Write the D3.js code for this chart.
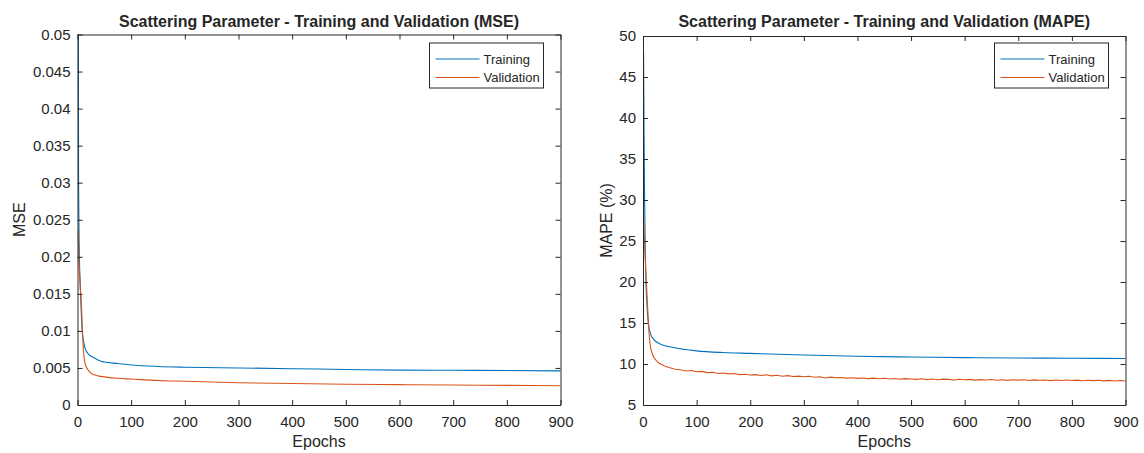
<!DOCTYPE html>
<html>
<head>
<meta charset="utf-8">
<script src="https://cdn.jsdelivr.net/npm/d3@7"></script>
<style>
  body { margin: 0; background: #fff; }
  text { font-family: "Liberation Sans", Arial, sans-serif; fill: #262626; }
</style>
</head>
<body>
<div id="chart"></div>
<script>
// DATA ------------------------------------------------------------
// epochs + values (key points, denser near the knee)
let mse_train_epochs = [1, 2, 3, 5, 7, 8, 9, 11, 13, 15, 20, 30, 40, 50, 75, 100, 150, 200, 300, 400, 500, 600, 700, 800, 900];
let mse_train_values = [0.09, 0.03, 0.022, 0.0165, 0.0125, 0.0108, 0.0098, 0.0087, 0.008, 0.0075, 0.0069, 0.0064, 0.006, 0.0058, 0.0056, 0.0054, 0.0052, 0.0051, 0.005, 0.0049, 0.0048, 0.0047, 0.00468, 0.00465, 0.0046];

let mse_val_epochs = [1, 3, 5, 7, 9, 11, 13, 15, 20, 25, 30, 40, 50, 75, 100, 150, 200, 300, 400, 500, 600, 700, 800, 900];
let mse_val_values = [0.0236, 0.019, 0.016, 0.014, 0.0105, 0.0075, 0.006, 0.0054, 0.0047, 0.0043, 0.0041, 0.0039, 0.0038, 0.0036, 0.0035, 0.0033, 0.0032, 0.003, 0.0029, 0.0028, 0.00275, 0.0027, 0.00265, 0.0026];

let mape_train_epochs = [1, 2, 3, 4, 5, 6, 7, 8, 10, 14, 20, 30, 50, 75, 100, 150, 200, 300, 400, 500, 600, 700, 800, 900];
let mape_train_values = [48, 38, 30, 25, 21.5, 19, 17.8, 16.5, 15, 13.7, 13, 12.5, 12.1, 11.8, 11.6, 11.4, 11.3, 11.1, 10.95, 10.85, 10.78, 10.73, 10.7, 10.67];

let mape_val_epochs = [1, 4, 7, 9, 11, 13, 15, 20, 25,
  30, 40, 50, 60, 70, 80, 90, 100, 110, 120, 130, 140, 150, 160, 170, 180, 190,
  200, 210, 220, 230, 240, 250, 260, 270, 280, 290, 300, 310, 320, 330, 340, 350,
  360, 370, 380, 390, 400, 410, 420, 430, 440, 450, 460, 470, 480, 490, 500, 510,
  520, 530, 540, 550, 560, 570, 580, 590, 600, 610, 620, 630, 640, 650, 660, 670,
  680, 690, 700, 710, 720, 730, 740, 750, 760, 770, 780, 790, 800, 810, 820, 830,
  840, 850, 860, 870, 880, 890, 900];
let mape_val_values = [28, 23, 19, 16.5, 14, 12.5, 11.7, 10.8, 10.4,
  10.1, 9.75, 9.55, 9.35, 9.3, 9.15, 9.2, 9.05, 9.1, 8.95, 9.0, 8.85, 8.9, 8.8, 8.85, 8.7, 8.75,
  8.65, 8.7, 8.6, 8.68, 8.55, 8.62, 8.5, 8.58, 8.47, 8.52, 8.45, 8.5, 8.38, 8.45, 8.3, 8.4,
  8.32, 8.36, 8.28, 8.33, 8.25, 8.3, 8.22, 8.28, 8.2, 8.26, 8.18, 8.24, 8.15, 8.22, 8.18, 8.12,
  8.2, 8.1, 8.17, 8.08, 8.15, 8.12, 8.05, 8.14, 8.08, 8.12, 8.03, 8.1, 8.05, 8.11, 8.02, 8.08,
  8.0, 8.07, 8.03, 8.08, 7.99, 8.06, 8.01, 8.05, 7.97, 8.04, 7.99, 8.05, 7.98, 8.03, 7.95, 8.02,
  7.97, 8.01, 7.94, 8.0, 7.93, 7.99, 7.92];

let x_ticks = [0, 100, 200, 300, 400, 500, 600, 700, 800, 900];
let mse_ticks = [0, 0.005, 0.01, 0.015, 0.02, 0.025, 0.03, 0.035, 0.04, 0.045, 0.05];
let mape_ticks = [5, 10, 15, 20, 25, 30, 35, 40, 45, 50];
let legend_labels = ["Training", "Validation"];

// STYLE -----------------------------------------------------------
let COLORS = { Training: "#0072BD", Validation: "#D95319" };
let AXIS_COLOR = "#262626";
let TICK_LEN = 5;

let svg = d3
  .select("#chart")
  .append("svg")
  .attr("width", 1144)
  .attr("height", 453);

function zip(xs, ys) {
  return xs.map((x, i) => [x, ys[i]]);
}

// draws one MATLAB-looking panel
function drawPanel(opts) {
  let x = d3.scaleLinear().domain([0, 900]).range([opts.left, opts.right]);
  let y = d3.scaleLinear().domain(opts.y_domain).range([opts.bottom, opts.top]);

  let g = svg.append("g");

  // clip so the first spike gets cut at the top
  g.append("clipPath")
    .attr("id", opts.id + "-clip")
    .append("rect")
    .attr("x", opts.left)
    .attr("y", opts.top)
    .attr("width", opts.right - opts.left)
    .attr("height", opts.bottom - opts.top);

  let series = [
    { name: "Training", data: zip(opts.train[0], opts.train[1]), curve: d3.curveMonotoneX },
    { name: "Validation", data: zip(opts.val[0], opts.val[1]), curve: opts.val_curve },
  ];

  g.append("g")
    .attr("clip-path", "url(#" + opts.id + "-clip)")
    .selectAll("path")
    .data(series)
    .enter()
    .append("path")
    .attr("fill", "none")
    .attr("stroke", (d) => COLORS[d.name])
    .attr("stroke-width", 1.1)
    .attr("d", (d) =>
      d3.line().x((p) => x(p[0])).y((p) => y(p[1])).curve(d.curve)(d.data)
    );

  // axes: ticks pointing inwards, mirrored on top/right (box on)
  let bottom_axis = d3.axisBottom(x).tickValues(x_ticks).tickSize(-TICK_LEN).tickPadding(11).tickSizeOuter(0);
  let top_axis = d3.axisTop(x).tickValues(x_ticks).tickSize(-TICK_LEN).tickFormat("").tickSizeOuter(0);
  let left_axis = d3.axisLeft(y).tickValues(opts.y_ticks).tickSize(-TICK_LEN).tickPadding(7).tickSizeOuter(0).tickFormat(opts.y_format);
  let right_axis = d3.axisRight(y).tickValues(opts.y_ticks).tickSize(-TICK_LEN).tickFormat("").tickSizeOuter(0);

  let axes = [
    g.append("g").attr("transform", "translate(0," + opts.bottom + ")").call(bottom_axis),
    g.append("g").attr("transform", "translate(0," + opts.top + ")").call(top_axis),
    g.append("g").attr("transform", "translate(" + opts.left + ",0)").call(left_axis),
    g.append("g").attr("transform", "translate(" + opts.right + ",0)").call(right_axis),
  ];
  axes.forEach((a) => {
    a.select(".domain").attr("stroke", AXIS_COLOR);
    a.selectAll(".tick line").attr("stroke", AXIS_COLOR);
    a.selectAll(".tick text")
      .attr("font-size", 15)
      .attr("fill", AXIS_COLOR)
      .style("font-family", "Liberation Sans, Arial, sans-serif");
  });

  // title and axis labels
  let mid_x = (opts.left + opts.right) / 2;
  g.append("text")
    .attr("x", mid_x)
    .attr("y", 26.5)
    .attr("text-anchor", "middle")
    .attr("font-weight", "bold")
    .attr("font-size", 16)
    .text(opts.title);

  g.append("text")
    .attr("x", mid_x)
    .attr("y", 447)
    .attr("text-anchor", "middle")
    .attr("font-size", 16)
    .text("Epochs");

  g.append("text")
    .attr("transform", "translate(" + opts.ylabel_x + "," + (opts.top + opts.bottom) / 2 + ") rotate(-90)")
    .attr("text-anchor", "middle")
    .attr("font-size", 16)
    .text(opts.ylabel);

  // legend box top right
  let lg_w = 114, lg_h = 45;
  let lg_x = opts.right - 131, lg_y = 43;
  let legend = g.append("g").attr("transform", "translate(" + lg_x + "," + lg_y + ")");
  legend.append("rect")
    .attr("width", lg_w)
    .attr("height", lg_h)
    .attr("fill", "#fff")
    .attr("stroke", AXIS_COLOR)
    .attr("stroke-width", 1);

  let rows = legend.selectAll("g").data(legend_labels).enter().append("g")
    .attr("transform", (d, i) => "translate(0," + (16 + i * 18.5) + ")");
  rows.append("line")
    .attr("x1", 6)
    .attr("x2", 50)
    .attr("stroke", (d) => COLORS[d])
    .attr("stroke-width", 1);
  rows.append("text")
    .attr("x", 54)
    .attr("dy", "0.35em")
    .attr("font-size", 13)
    .text((d) => d);
}

drawPanel({
  id: "mse",
  left: 77.5,
  right: 560.5,
  top: 34.5,
  bottom: 405,
  y_domain: [0, 0.05],
  y_ticks: mse_ticks,
  y_format: (d) => String(+d.toFixed(3)),
  train: [mse_train_epochs, mse_train_values],
  val: [mse_val_epochs, mse_val_values],
  val_curve: d3.curveMonotoneX,
  title: "Scattering Parameter - Training and Validation (MSE)",
  ylabel: "MSE",
  ylabel_x: 25,
});

drawPanel({
  id: "mape",
  left: 643,
  right: 1125.5,
  top: 36,
  bottom: 405,
  y_domain: [5, 50],
  y_ticks: mape_ticks,
  y_format: (d) => String(d),
  train: [mape_train_epochs, mape_train_values],
  val: [mape_val_epochs, mape_val_values],
  val_curve: d3.curveLinear,
  title: "Scattering Parameter - Training and Validation (MAPE)",
  ylabel: "MAPE (%)",
  ylabel_x: 612,
});
</script>
</body>
</html>
